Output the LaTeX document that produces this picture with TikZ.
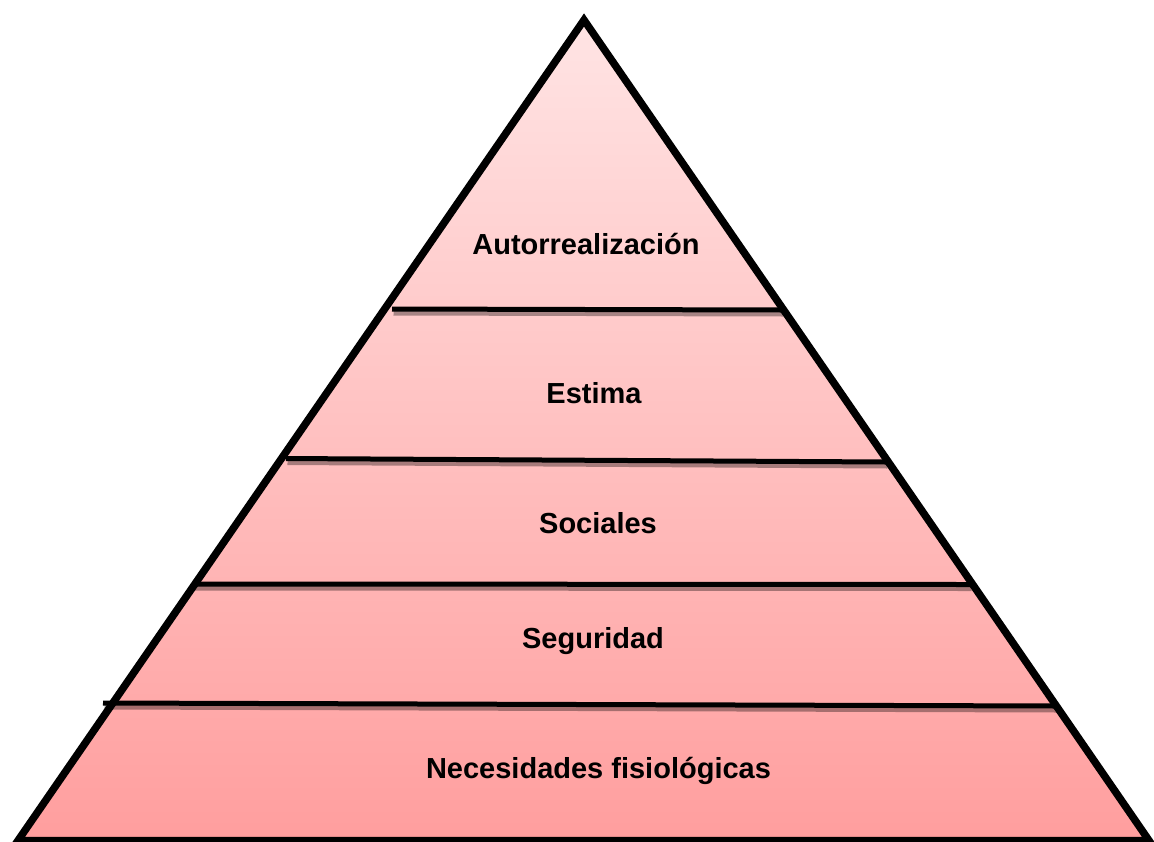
\documentclass[tikz,border=0pt]{standalone}
\usepackage{fontspec}
\setmainfont{Liberation Sans}
\usepackage{xcolor}
\usetikzlibrary{positioning}
\definecolor{pinktop}{RGB}{255,228,228}
\definecolor{pinkbot}{RGB}{255,158,158}

\begin{document}
\begin{tikzpicture}[x=1pt, y=-1pt,
    level/.style={font=\fontsize{29}{34}\selectfont\bfseries, anchor=base},
    divider/.style={line width=5pt, black},
    dividershadow/.style={line width=5pt, black, opacity=0.35,
      transform canvas={xshift=1.5pt, yshift=-4pt}},
    outline/.style={line width=7.5pt, black, line join=miter}]
    \useasboundingbox (0,0) rectangle (1154,841);
    \coordinate (apex) at (584,20);
    \coordinate (baseL) at (18,840.5);
    \coordinate (baseR) at (1149,840.5);
    \coordinate (l1a) at (392,309);   \coordinate (l1b) at (782,310);
    \coordinate (l2a) at (286,458.5); \coordinate (l2b) at (886,462);
    \coordinate (l3a) at (192,584);   \coordinate (l3b) at (970,584.5);
    \coordinate (l4a) at (103,703);   \coordinate (l4b) at (1056,706);

    \fill[top color=pinktop, bottom color=pinkbot] (apex) -- (baseL) -- (baseR) -- cycle;

    \draw[dividershadow] (l1a) -- (l1b);
    \draw[dividershadow] (l2a) -- (l2b);
    \draw[dividershadow] (l3a) -- (l3b);
    \draw[dividershadow] (l4a) -- (l4b);
    \draw[divider] (l1a) -- (l1b);
    \draw[divider] (l2a) -- (l2b);
    \draw[divider] (l3a) -- (l3b);
    \draw[divider] (l4a) -- (l4b);

    \draw[outline] (apex) -- (baseL) -- (baseR) -- cycle;

    \node[level] (autorr) at (586,254) {Autorrealización};
    \node[level] (estima) at (594,403) {Estima};
    \node[level] (sociales) at (598,533) {Sociales};
    \node[level] (seguridad) at (593,648) {Seguridad};
    \node[level] (fisio) at (598.5,778) {Necesidades fisiológicas};
\end{tikzpicture}
\end{document}
